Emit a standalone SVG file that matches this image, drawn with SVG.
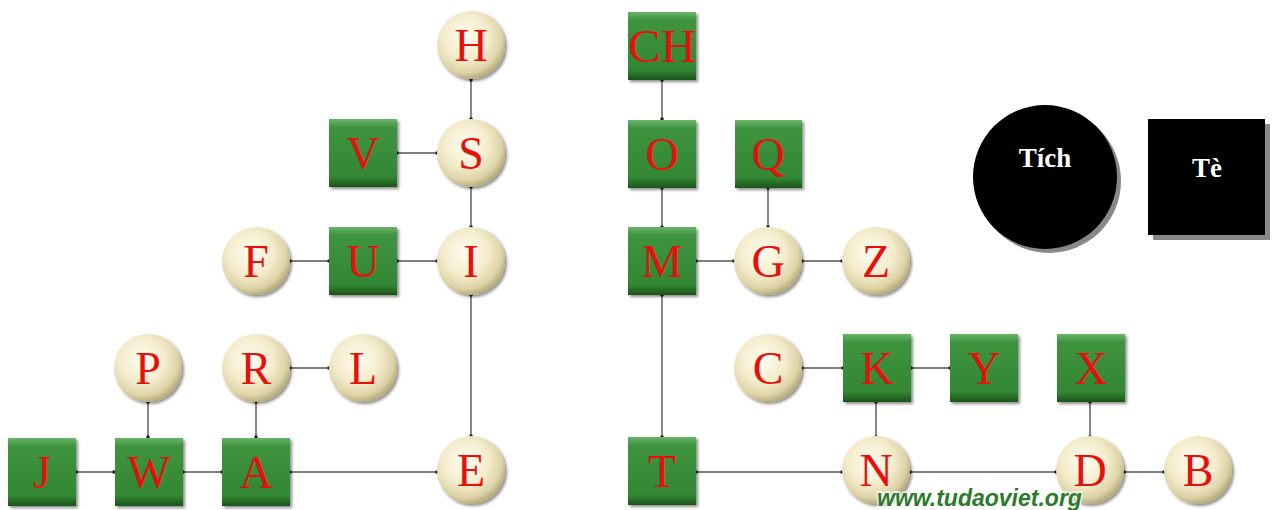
<svg xmlns="http://www.w3.org/2000/svg" width="1272" height="510" viewBox="0 0 1272 510">
<defs>
<linearGradient id="gsq" x1="0" y1="0" x2="0" y2="1">
<stop offset="0" stop-color="#6ab46a"/>
<stop offset="0.12" stop-color="#3f943f"/>
<stop offset="0.85" stop-color="#338733"/>
<stop offset="1" stop-color="#1b541b"/>
</linearGradient>
<radialGradient id="gci" cx="0.42" cy="0.38" r="0.62">
<stop offset="0" stop-color="#fffdf0"/>
<stop offset="0.55" stop-color="#f3ebcb"/>
<stop offset="0.85" stop-color="#ddd3a6"/>
<stop offset="1" stop-color="#b8ad7e"/>
</radialGradient>
<filter id="sh" x="-20%" y="-20%" width="150%" height="150%">
<feDropShadow dx="2" dy="2" stdDeviation="1.5" flood-color="#000" flood-opacity="0.45"/>
</filter>
<marker id="dot" markerWidth="6" markerHeight="6" refX="3" refY="3" markerUnits="userSpaceOnUse">
<circle cx="3" cy="3" r="1.8" fill="#222"/>
</marker>
</defs>
<style>
.c line{stroke:#555;stroke-width:1.4;marker-start:url(#dot);marker-end:url(#dot)}
.sq{fill:url(#gsq);filter:url(#sh)}
.ci{fill:url(#gci);filter:url(#sh)}
.t{font-family:"Liberation Serif",serif;font-size:46px;fill:#e8100c;text-anchor:middle}
.lg{font-family:"Liberation Serif",serif;font-weight:bold;fill:#fff;text-anchor:middle}
</style>
<rect width="1272" height="510" fill="#fff"/>
<g id="connectors" class="c">
<line x1="471" y1="80" x2="471" y2="119"/>
<line x1="397" y1="153" x2="437" y2="153"/>
<line x1="471" y1="187" x2="471" y2="227"/>
<line x1="290" y1="261" x2="329" y2="261"/>
<line x1="397" y1="261" x2="437" y2="261"/>
<line x1="471" y1="295" x2="471" y2="436"/>
<line x1="148" y1="402" x2="148" y2="437"/>
<line x1="256" y1="402" x2="256" y2="437"/>
<line x1="290" y1="368" x2="329" y2="368"/>
<line x1="76" y1="472" x2="114" y2="472"/>
<line x1="183" y1="472" x2="222" y2="472"/>
<line x1="290" y1="472" x2="437" y2="472"/>
<line x1="662" y1="80" x2="662" y2="119"/>
<line x1="662" y1="188" x2="662" y2="227"/>
<line x1="662" y1="295" x2="662" y2="437"/>
<line x1="768" y1="188" x2="768" y2="227"/>
<line x1="696" y1="261" x2="734" y2="261"/>
<line x1="802" y1="261" x2="842" y2="261"/>
<line x1="802" y1="368" x2="843" y2="368"/>
<line x1="911" y1="368" x2="950" y2="368"/>
<line x1="876" y1="402" x2="876" y2="437"/>
<line x1="1090" y1="402" x2="1090" y2="437"/>
<line x1="696" y1="472" x2="842" y2="472"/>
<line x1="910" y1="472" x2="1056" y2="472"/>
<line x1="1124" y1="472" x2="1164" y2="472"/>
</g>
<g id="H"><circle class="ci" cx="471" cy="45" r="34"/><text class="t" x="471" y="61">H</text></g>
<g id="CH"><rect class="sq" x="628" y="12" width="68" height="68"/><text class="t" x="662" y="62" textLength="68" lengthAdjust="spacingAndGlyphs">CH</text></g>
<g id="V"><rect class="sq" x="329" y="119" width="68" height="68"/><text class="t" x="363" y="169">V</text></g>
<g id="S"><circle class="ci" cx="471" cy="153" r="34"/><text class="t" x="471" y="169">S</text></g>
<g id="O"><rect class="sq" x="628" y="120" width="68" height="68"/><text class="t" x="662" y="170">O</text></g>
<g id="Q"><rect class="sq" x="735" y="120" width="67" height="68"/><text class="t" x="768" y="170">Q</text></g>
<g id="F"><circle class="ci" cx="256" cy="261" r="34"/><text class="t" x="256" y="277">F</text></g>
<g id="U"><rect class="sq" x="329" y="227" width="68" height="68"/><text class="t" x="363" y="277">U</text></g>
<g id="I"><circle class="ci" cx="471" cy="261" r="34"/><text class="t" x="471" y="277">I</text></g>
<g id="M"><rect class="sq" x="628" y="227" width="68" height="68"/><text class="t" x="662" y="277">M</text></g>
<g id="G"><circle class="ci" cx="768" cy="261" r="34"/><text class="t" x="768" y="277">G</text></g>
<g id="Z"><circle class="ci" cx="876" cy="261" r="34"/><text class="t" x="876" y="277">Z</text></g>
<g id="P"><circle class="ci" cx="148" cy="368" r="34"/><text class="t" x="148" y="384">P</text></g>
<g id="R"><circle class="ci" cx="256" cy="368" r="34"/><text class="t" x="256" y="384">R</text></g>
<g id="L"><circle class="ci" cx="363" cy="368" r="34"/><text class="t" x="363" y="384">L</text></g>
<g id="C"><circle class="ci" cx="768" cy="368" r="34"/><text class="t" x="768" y="384">C</text></g>
<g id="K"><rect class="sq" x="843" y="334" width="68" height="68"/><text class="t" x="877" y="384">K</text></g>
<g id="Y"><rect class="sq" x="950" y="334" width="68" height="68"/><text class="t" x="984" y="384">Y</text></g>
<g id="X"><rect class="sq" x="1057" y="334" width="68" height="68"/><text class="t" x="1091" y="384">X</text></g>
<g id="J"><rect class="sq" x="8" y="438" width="68" height="68"/><text class="t" x="42" y="488">J</text></g>
<g id="W"><rect class="sq" x="115" y="438" width="68" height="68"/><text class="t" x="149" y="488">W</text></g>
<g id="A"><rect class="sq" x="222" y="438" width="68" height="68"/><text class="t" x="256" y="488">A</text></g>
<g id="E"><circle class="ci" cx="471" cy="470" r="34"/><text class="t" x="471" y="486">E</text></g>
<g id="T"><rect class="sq" x="628" y="437" width="68" height="68"/><text class="t" x="662" y="487">T</text></g>
<g id="N"><circle class="ci" cx="876" cy="470" r="34"/><text class="t" x="876" y="486">N</text></g>
<g id="D"><circle class="ci" cx="1090" cy="470" r="34"/><text class="t" x="1090" y="486">D</text></g>
<g id="B"><circle class="ci" cx="1198" cy="470" r="34"/><text class="t" x="1198" y="486">B</text></g>
<g id="watermark">
<text x="877" y="506" font-family="Liberation Sans,Arial,sans-serif" font-weight="bold" font-style="italic" font-size="23" fill="#2c7a2c" stroke="#fff" stroke-width="3" stroke-opacity="0.8" paint-order="stroke">www.tudaoviet.org</text>
</g>
<g id="legend-tich">
<circle cx="1049" cy="181" r="72" fill="#888"/>
<circle cx="1045" cy="177" r="72" fill="#000"/>
<text class="lg" x="1045" y="167" font-size="27">Tích</text>
</g>
<g id="legend-te">
<rect x="1153" y="124" width="117" height="116" fill="#888"/>
<rect x="1148" y="119" width="117" height="116" fill="#000"/>
<text class="lg" x="1207" y="177" font-size="27">Tè</text>
</g>
</svg>
